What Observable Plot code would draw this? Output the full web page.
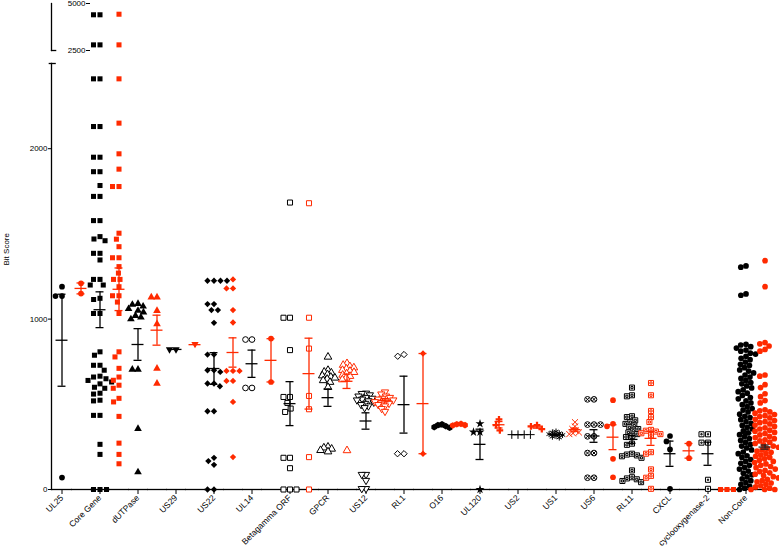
<!DOCTYPE html>
<html><head><meta charset="utf-8">
<script src="https://cdn.jsdelivr.net/npm/d3@7"></script>
<script src="https://cdn.jsdelivr.net/npm/@observablehq/plot@0.6"></script>
<style>body{margin:0;background:#fff} #chart{width:779px} #chart svg{display:block}</style>
</head><body><div id="chart"></div>
<script>
const categories = ["UL25","Core Gene","dUTPase","US29","US22","UL14","Betagamma ORF","GPCR","US12","RL1","O16","UL120","US2","US1","US6","RL11","CXCL","cyclooxygenase-2","Non-Core"];

const blackScores = [
  [1190, 1135, 1135, 70],
  [4400, 4400, 2800, 2800, 2410, 2410, 2130, 2130, 1950, 1950, 1865, 1865, 1784, 1720, 1720, 1578, 1578, 1484, 1470, 1460, 1386, 1386, 1347, 1233, 1233, 1200, 1200, 1122, 1115, 1033, 1033, 808, 788, 729, 729, 700, 665, 660, 650, 640, 631, 620, 600, 594, 565, 560, 524, 520, 435, 435, 265, 206, 0, 0, 0],
  [1090, 1085, 1075, 1060, 1050, 1040, 1020, 1010, 1000, 704, 704, 357, 102],
  [822, 822],
  [1225, 1225, 1225, 1225, 1088, 1088, 1053, 1053, 978, 792, 792, 700, 700, 690, 622, 622, 606, 459, 459, 186, 167, 145, 0, 0],
  [880, 880, 596, 596],
  [1684, 1008, 1008, 818, 543, 543, 508, 475, 455, 186, 186, 125, 0, 0, 0],
  [778, 700, 690, 685, 675, 668, 660, 655, 648, 640, 630, 600, 250, 245, 238, 230, 222],
  [565, 563, 555, 548, 540, 535, 530, 525, 520, 512, 505, 498, 490, 480, 88, 88, 53, 5, 5],
  [792, 782, 210, 210],
  [383, 378, 372, 366, 362],
  [386, 337, 337, 0],
  [322, 322, 322, 322],
  [340, 335, 330, 325, 320, 315, 310, 305],
  [529, 529, 381, 381, 381, 312, 312, 214, 214, 69, 69],
  [598, 553, 547, 430, 425, 406, 395, 385, 375, 365, 355, 345, 335, 325, 315, 308, 269, 262, 210, 205, 200, 195, 186, 112, 72, 65, 60, 50, 43],
  [314, 282, 235, 4],
  [324, 324, 275, 275, 57, 4],
  [1312, 1305, 1148, 1140, 852, 848, 838, 830, 818, 812, 800, 795, 782, 770, 762, 748, 735, 728, 715, 702, 695, 684, 672, 660, 652, 640, 628, 620, 608, 596, 585, 574, 565, 552, 540, 532, 520, 508, 498, 486, 475, 466, 455, 442, 430, 422, 410, 398, 388, 376, 365, 356, 344, 332, 322, 310, 298, 288, 276, 265, 255, 244, 232, 220, 210, 198, 188, 176, 165, 154, 142, 130, 120, 108, 96, 86, 74, 62, 52, 40, 30, 18, 8, 0]
];

const redScores = [
  [1210, 1150],
  [4430, 2800, 2410, 2150, 1970, 1880, 1778, 1778, 1504, 1469, 1425, 1360, 1360, 1308, 1270, 1233, 1233, 1190, 1137, 1137, 1100, 1033, 808, 778, 711, 660, 641, 612, 594, 535, 514, 429, 272, 206, 151],
  [1128, 1128, 1049, 971, 710, 622],
  [853],
  [1233, 1180, 1180, 1053, 980, 696, 696, 696, 637, 637, 514, 190],
  [886, 631],
  [1680, 1008, 827, 549, 471, 190, 0],
  [740, 730, 722, 715, 708, 700, 695, 688, 680, 672, 665, 655, 645, 229],
  [572, 560, 548, 540, 535, 530, 525, 520, 515, 510, 505, 498, 490, 475, 458],
  [798, 210],
  [385, 383, 378, 376],
  [412, 378, 347],
  [378, 370, 355],
  [395, 370, 355, 345, 335, 330, 325],
  [524, 386, 371, 180, 72],
  [625, 553, 461, 425, 396, 350, 345, 340, 330, 325, 318, 219, 210, 118, 80, 69, 4],
  [269, 184],
  [0, 0, 0],
  [1343, 1190, 862, 855, 842, 822, 812, 672, 665, 615, 598, 562, 545, 522, 508, 468, 462, 455, 448, 440, 433, 428, 420, 412, 405, 398, 392, 385, 378, 370, 362, 355, 348, 342, 335, 328, 320, 312, 305, 298, 292, 285, 278, 270, 262, 255, 248, 240, 232, 225, 218, 210, 202, 195, 188, 180, 172, 165, 158, 150, 142, 135, 128, 120, 112, 105, 98, 90, 82, 75, 68, 60, 52, 45, 38, 30, 22, 15, 8, 0, 0, 0]
];

const blackMean = [876, 1055, 851, 822, 710, 738, 504, 539, 402, 498, 372, 265, 322, 322, 314, 294, 210, 210, 330];
const blackSem  = [270, 105, 93, 0, 93, 80, 129, 51, 48, 167, 4, 89, 0, 4, 37, 23, 74, 68, 20];
const redMean   = [1180, 1175, 935, 850, 804, 758, 680, 635, 524, 504, 380, 380, 367, 351, 307, 300, 227, 0, 249];
const redSem    = [32, 125, 88, 0, 86, 127, 208, 42, 10, 294, 2, 19, 7, 9, 73, 41, 43, 0, 12];

const blackSymbol = ["circle","square","triangle","triDown","diamond2","circle","square","triangle","triDown","diamond2","hexagon","star","plus","asterisk","circleTimes","squareSquare","circle","squareDot","circle"];
const redSymbol   = ["circle","square","triangle","triDown","diamond2","circle","square","triangle","triDown","diamond2","hexagon","cross","cross","times","circle","squareSquare","circle","square","circle"];
const blackFilled = [1,1,1,1,1,0,0,0,0,0,1,1,0,0,0,0,1,0,1];
const redFilled   = [1,1,1,1,1,1,0,0,0,1,1,1,1,0,1,0,1,1,1];
// how tightly GraphPad packed each column (dodge padding, px)
const packing = [0.8,0.8,0,0.8,0.8,0.8,0.8,-1.5,-1.5,0.8,-1.5,0.8,0.5,-2,0.8,-0.5,0.8,0.8,-0.4];

const lowerTicks = [0, 1000, 2000];
const upperTicks = [2500, 5000];
const BREAK = 2500, TOP = 5000;

const BLACK = "#000000", RED = "#ff2a00";

const sqrt3 = Math.sqrt(3);
const custom = {
  triDown: {draw(ctx, size) {
    const y = -Math.sqrt(size / (sqrt3 * 3)) * 0.95;
    ctx.moveTo(0, -y * 2); ctx.lineTo(-sqrt3 * y, y); ctx.lineTo(sqrt3 * y, y); ctx.closePath();
  }},
  circleTimes: {draw(ctx, size) {
    const r = Math.sqrt(size / Math.PI), a = r * 0.68;
    ctx.moveTo(r, 0); ctx.arc(0, 0, r, 0, 2 * Math.PI);
    ctx.moveTo(-a, -a); ctx.lineTo(a, a); ctx.moveTo(a, -a); ctx.lineTo(-a, a);
  }},
  squareSquare: {draw(ctx, size) {
    const h = Math.sqrt(size) / 2, i = h * 0.42;
    ctx.rect(-h, -h, 2 * h, 2 * h); ctx.rect(-i, -i, 2 * i, 2 * i);
  }},
  squareDot: {draw(ctx, size) {
    const h = Math.sqrt(size) / 2, i = h * 0.25;
    ctx.rect(-h, -h, 2 * h, 2 * h); ctx.rect(-i, -i, 2 * i, 2 * i);
  }}
};
const lineOnly = new Set(["plus", "times", "asterisk"]);
const symOf = (s) => custom[s] || s;

const nKeys = categories.length * 2;
const keys = d3.range(nKeys);
const blackKeys = keys.filter(k => k % 2 === 0);

const points = [];
const stats = [];
categories.forEach((c, i) => {
  [[blackScores, blackSymbol, blackFilled, blackMean, blackSem, BLACK, 0],
   [redScores, redSymbol, redFilled, redMean, redSem, RED, 1]].forEach(([scores, syms, filled, means, sems, col, s]) => {
    const name = syms[i];
    const sym = symOf(name);
    const fill = filled[i] ? col : (lineOnly.has(name) ? "none" : "white");
    const stroke = filled[i] ? "none" : col;
    scores[i].forEach(v => points.push({key: 2 * i + s, cat: i, v, sym, fill, stroke}));
    const barCol = (i === categories.length - 1 && s === 1) ? "#222" : col;
    stats.push({key: 2 * i + s, mean: means[i], sem: sems[i], lo: means[i] - sems[i], hi: means[i] + sems[i], color: barCol});
  });
});
const caps = stats.filter(d => d.sem > 0).flatMap(d => [{key: d.key, y: d.lo, color: d.color}, {key: d.key, y: d.hi, color: d.color}]);

const FONT = "Liberation Sans, Arial, Helvetica, sans-serif";
const common = {
  width: 779,
  marginLeft: 48,
  marginRight: 1,
  x: {domain: [-1, 1], axis: null},
  color: {type: "identity"},
  style: {fontFamily: FONT, fontSize: "8px", color: "#000", background: "#fff", overflow: "visible"}
};
const R = 2.85;
const dotMarks = (pts) => d3.groups(pts, d => d.cat).map(([cat, g]) =>
  Plot.dot(g, Plot.dodgeX({anchor: "middle", padding: packing[cat], fx: "key", y: "v", r: R, symbol: "sym", fill: "fill", stroke: "stroke", strokeWidth: 1})));

const upper = Plot.plot({
  ...common,
  height: 55,
  marginTop: 3,
  marginBottom: 5,
  fx: {domain: keys, padding: 0, axis: null},
  y: {domain: [BREAK, TOP]},
  marks: [
    Plot.frame({anchor: "left", facetAnchor: "left", dx: -1, strokeWidth: 1.3}),
    Plot.axisY({ticks: upperTicks, tickSize: 4, tickFormat: d => String(d), tickPadding: 1, label: null}),
    Plot.ruleY([BREAK], {facetAnchor: "left", x1: -1.12, x2: -0.55, strokeWidth: 1.3}),
    ...dotMarks(points.filter(d => d.v > BREAK))
  ]
});

const lower = Plot.plot({
  ...common,
  height: 493,
  marginTop: 8,
  marginBottom: 59,
  fx: {domain: keys, padding: 0},
  y: {domain: [0, BREAK]},
  marks: [
    Plot.frame({anchor: "left", facetAnchor: "left", dx: -1, strokeWidth: 1.3}),
    Plot.frame({anchor: "bottom", strokeWidth: 1.3}),
    Plot.axisY({ticks: lowerTicks, tickSize: 4, tickFormat: d => String(d), tickPadding: 1, label: null}),
    Plot.ruleY([BREAK], {facetAnchor: "left", x1: -1.35, x2: -0.6, strokeWidth: 1.3}),
    Plot.text(["Bit Score"], {frameAnchor: "left", facetAnchor: "left", rotate: -90, dx: -46, dy: -11, fontSize: 8}),
    Plot.axisFx({anchor: "bottom", ticks: blackKeys, tickFormat: k => categories[k / 2], tickRotate: -45, tickSize: 5, tickPadding: 2, label: null, fontSize: 8.5}),
    Plot.ruleX(stats.filter(d => d.sem > 0 && d.key === nKeys - 2), {fx: "key", x: 0, y1: "lo", y2: "hi", stroke: "color", strokeWidth: 1.3}),
    Plot.ruleY(stats.filter(d => d.key === nKeys - 2), {fx: "key", y: "mean", x1: -0.63, x2: 0.63, stroke: "color", strokeWidth: 1.3}),
    ...dotMarks(points.filter(d => d.v <= BREAK)),
    Plot.ruleX(stats.filter(d => d.sem > 0 && d.key !== nKeys - 2), {fx: "key", x: 0, y1: "lo", y2: "hi", stroke: "color", strokeWidth: 1.3}),
    Plot.ruleY(stats.filter(d => d.key !== nKeys - 2), {fx: "key", y: "mean", x1: -0.63, x2: 0.63, stroke: "color", strokeWidth: 1.3}),
    Plot.ruleY(caps.filter(d => d.key !== nKeys - 2), {fx: "key", y: "y", x1: -0.42, x2: 0.42, stroke: "color", strokeWidth: 1.3})
  ]
});

document.getElementById("chart").append(upper, lower);
</script>
</body></html>
